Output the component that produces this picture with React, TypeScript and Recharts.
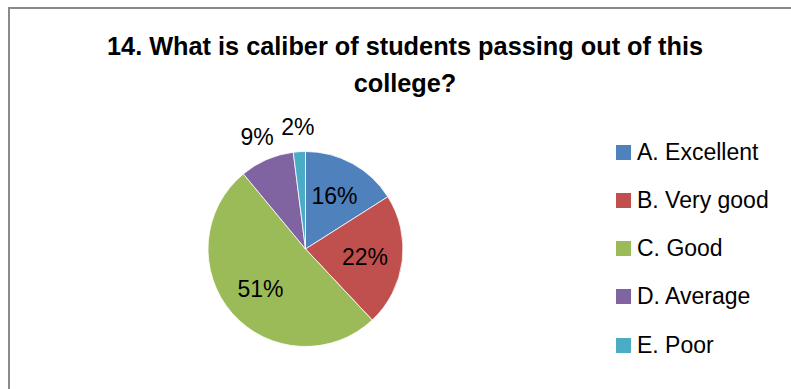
import { PieChart, Pie, Cell, Legend } from "recharts"

const categories = ["A. Excellent", "B. Very good", "C. Good", "D. Average", "E. Poor"]
const shares = [16, 22, 51, 9, 2]
const colors = ["#4F81BD", "#C0504D", "#9BBB59", "#8064A2", "#4BACC6"]

const chartData = categories.map((name, i) => ({ name, value: shares[i] }))

const FONT = "'Liberation Sans', Arial, sans-serif"
const RAD = Math.PI / 180

const renderLabel = ({ cx, cy, midAngle, percent }: any) => {
 // small slices get their label pushed outside the pie
 const r = percent < 0.1 ? 122 : 60
 const x = cx + r * Math.cos(-midAngle * RAD)
 const y = cy + r * Math.sin(-midAngle * RAD)
 return (
 <text
 x={x}
 y={y}
 fill="#000"
 textAnchor="middle"
 dominantBaseline="central"
 fontFamily={FONT}
 fontSize={23}
 >
 {`${Math.round(percent * 100)}%`}
 </text>
 )
}

const LegendList = () => (
 <div style={{ fontFamily: FONT, fontSize: 23, color: "#000" }}>
 {categories.map((name, i) => (
 <div
 key={name}
 style={{ display: "flex", alignItems: "center", height: 48.25 }}
 >
 <span
 style={{
 display: "inline-block",
 width: 15,
 height: 15,
 background: colors[i],
 marginRight: 6,
 }}
 />
 <span>{name}</span>
 </div>
 ))}
 </div>
)

export default function App() {
 return (
 <div style={{ position: "relative", width: 791, height: 389, background: "#fff" }}>
 <style>{`body{margin:0}`}</style>
 <div
 style={{
 position: "absolute",
 left: 8,
 top: 7,
 right: 0,
 bottom: 0,
 borderTop: "2px solid #8a8a8a",
 borderLeft: "2px solid #8a8a8a",
 }}
 />
 <div
 style={{
 position: "absolute",
 left: 0,
 width: 810,
 top: 28,
 textAlign: "center",
 fontFamily: FONT,
 fontWeight: "bold",
 fontSize: 25.3,
 lineHeight: "37px",
 color: "#000",
 }}
 >
 14. What is caliber of students passing out of this
 <br />
 college?
 </div>
 <div style={{ position: "absolute", left: 0, top: 0 }}>
 <PieChart width={791} height={389} margin={{ top: 0, right: 0, bottom: 0, left: 0 }}>
 <Pie
 data={chartData}
 dataKey="value"
 nameKey="name"
 cx={305.5}
 cy={249}
 outerRadius={97.5}
 startAngle={90}
 endAngle={-270}
 stroke="#ffffff"
 strokeWidth={0.8}
 labelLine={false}
 label={renderLabel}
 isAnimationActive={false}
 >
 {chartData.map((entry, i) => (
 <Cell key={`cell-${i}`} fill={colors[i]} />
 ))}
 </Pie>
 <Legend
 content={<LegendList />}
 layout="vertical"
 wrapperStyle={{ position: "absolute", left: 616, top: 128, width: 175 }}
 />
 </PieChart>
 </div>
 </div>
 )
}
